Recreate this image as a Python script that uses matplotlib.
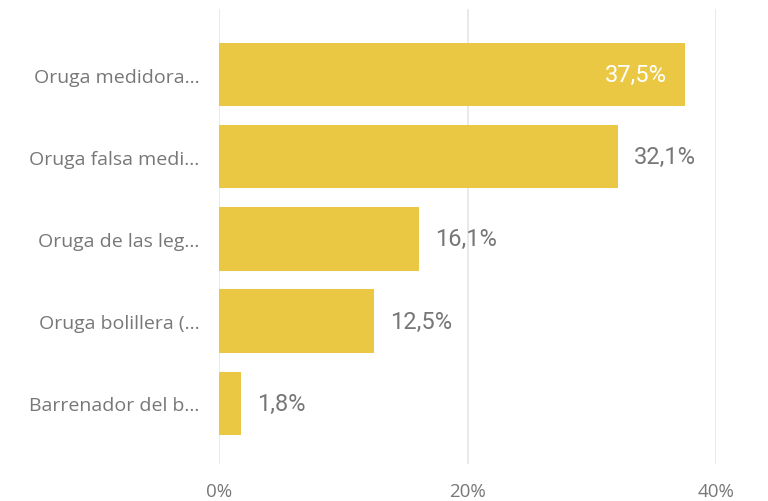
import matplotlib
matplotlib.use("Agg")
from matplotlib import pyplot as plt
import numpy as np

categories = ["Oruga medidora...", "Oruga falsa medi...", "Oruga de las leg...",
              "Oruga bolillera (...", "Barrenador del b..."]
values = [37.5, 32.1, 16.1, 12.5, 1.8]
tick_values = [0, 20, 40]
tick_labels = ["0%", "20%", "40%"]

bar_color = "#EBC844"
gray = "#777777"

fig = plt.figure(figsize=(7.68, 5.02), dpi=100)
ax = fig.add_axes([219 / 768, 1 - 465 / 502, (716 - 219) / 768, (465 - 10) / 502])

y = np.arange(len(categories))
ax.barh(y, values, height=0.77, color=bar_color, zorder=2)

for yi, v in zip(y, values):
    txt = f"{v:.1f}%".replace(".", ",")
    if v > 35:
        ax.text(v - 1.45, yi, txt, ha="right", va="center", color="white",
                fontsize=17, family="Roboto")
    else:
        ax.text(v + 1.3, yi, txt, ha="left", va="center", color=gray,
                fontsize=17, family="Roboto")

ax.set_xlim(0, 40)
ax.set_ylim(4.74, -0.8)
ax.set_yticks(y)
ax.set_yticklabels(categories, fontsize=14, color=gray, family="Open Sans")
ax.set_xticks(tick_values)
ax.set_xticklabels(tick_labels, fontsize=13.5, color=gray, family="Open Sans")
ax.tick_params(axis="y", length=0, pad=14)
ax.tick_params(axis="x", length=0, pad=13)
ax.xaxis.grid(True, color="#E5E5E5", linewidth=1.2, zorder=0)
for s in ax.spines.values():
    s.set_visible(False)

fig.savefig("out.png", dpi=100)
